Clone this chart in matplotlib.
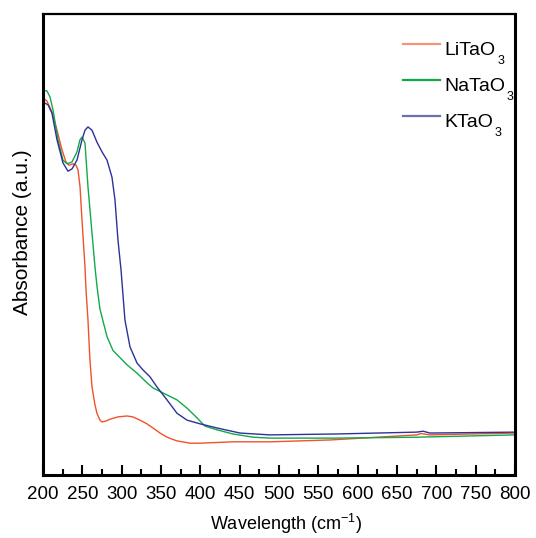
import matplotlib
matplotlib.use("Agg")
import matplotlib.pyplot as plt
from matplotlib.ticker import MultipleLocator, NullLocator

plt.rcParams['font.family'] = ['Liberation Sans', 'DejaVu Sans']
plt.rcParams['mathtext.fontset'] = 'custom'
plt.rcParams['mathtext.rm'] = 'Liberation Sans'

# UV-vis absorbance spectra (arbitrary units)
li_wl = [200, 205.1, 211.4, 217.8, 224.2, 229.2, 233.1, 238.1, 242.0, 244.5,
         247.1, 249.6, 253.4, 254.7, 257.2, 259.7, 262.3, 266.1, 268.6, 272.4,
         275.0, 280.1, 285.2, 295.3, 306.8, 314.4, 323.3, 332.2, 339.8, 348.7,
         357.6, 370.3, 386.9, 399.7, 441.5, 488.6, 564.8, 675.4, 680.0, 691.9,
         742.8, 800]
li_abs = [0.818, 0.811, 0.787, 0.748, 0.705, 0.679, 0.672, 0.675, 0.672, 0.662,
          0.625, 0.553, 0.451, 0.401, 0.336, 0.249, 0.191, 0.152, 0.134, 0.119,
          0.115, 0.117, 0.121, 0.126, 0.128, 0.126, 0.119, 0.111, 0.102, 0.091,
          0.082, 0.074, 0.069, 0.069, 0.072, 0.072, 0.076, 0.087, 0.090, 0.087,
          0.089, 0.091]

na_wl = [200, 205.1, 208.9, 212.7, 219.1, 225.4, 230.5, 236.9, 243.2, 247.0,
         249.6, 253.4, 257.2, 262.3, 266.1, 268.6, 272.4, 281.4, 289.0, 306.8,
         319.5, 332.2, 339.8, 352.5, 370.3, 383.1, 395.8, 405.9, 421.2, 441.5,
         467.0, 488.6, 573.7, 675.4, 800]
na_abs = [0.835, 0.833, 0.820, 0.792, 0.727, 0.683, 0.675, 0.679, 0.701, 0.727,
          0.733, 0.720, 0.625, 0.525, 0.451, 0.410, 0.360, 0.300, 0.270, 0.239,
          0.221, 0.200, 0.189, 0.178, 0.163, 0.145, 0.124, 0.106, 0.098, 0.089,
          0.082, 0.080, 0.080, 0.082, 0.087]

k_wl = [200, 206.4, 211.4, 217.8, 225.4, 231.8, 236.9, 243.2, 249.6, 253.4,
        257.2, 262.3, 268.6, 275.0, 281.4, 287.7, 291.5, 295.3, 299.2, 304.2,
        310.6, 319.5, 327.1, 336.0, 344.9, 357.6, 370.3, 383.1, 399.6, 421.2,
        450.4, 488.6, 573.7, 675.0, 683.1, 691.9, 800]
k_abs = [0.809, 0.803, 0.785, 0.727, 0.677, 0.659, 0.664, 0.683, 0.727, 0.748,
         0.755, 0.748, 0.722, 0.701, 0.683, 0.646, 0.597, 0.510, 0.445, 0.336,
         0.278, 0.243, 0.228, 0.213, 0.191, 0.163, 0.134, 0.119, 0.111, 0.102,
         0.091, 0.087, 0.089, 0.093, 0.095, 0.091, 0.093]

names = ['LiTaO', 'NaTaO', 'KTaO']
line_colors = ['#f2512b', '#14a84a', '#2d3296']
key_colors = ['#f2967a', '#14a84a', '#6b70b4']
spectra = [(li_wl, li_abs), (na_wl, na_abs), (k_wl, k_abs)]

fig = plt.figure(figsize=(5.36, 5.38), dpi=100)
ax = fig.add_axes([0.0802, 0.1171, 0.8806, 0.8569])

for (wl, ab), color in zip(spectra, line_colors):
    ax.plot(wl, ab, color=color, lw=1.0)

ax.set_xlim(200, 800)
ax.set_ylim(0, 1.0)
ax.xaxis.set_major_locator(MultipleLocator(50))
ax.xaxis.set_minor_locator(MultipleLocator(25))
ax.yaxis.set_major_locator(NullLocator())
ax.tick_params(axis='x', which='major', direction='in', length=7, width=1.5,
               labelsize=13.5, pad=8)
ax.tick_params(axis='x', which='minor', direction='in', length=4, width=1.5)
for side in ['left', 'bottom', 'right']:
    ax.spines[side].set_linewidth(2.2)
ax.spines['top'].set_linewidth(1.6)

ax.set_xlabel(r'Wavelength (cm$^{\mathregular{-1}}$)', fontsize=13)
ax.xaxis.set_label_coords(0.515, -0.08)
ax.set_ylabel('Absorbance (a.u.)', fontsize=15)
ax.yaxis.set_label_coords(-0.023, 0.526)

# key: short line segment with the compound name beside it
key_x0, key_x1, text_x = 0.763, 0.841, 0.851
key_y = [0.934, 0.856, 0.778]
for name, color, y in zip(names, key_colors, key_y):
    ax.plot([key_x0, key_x1], [y, y], color=color, lw=1.6,
            transform=ax.transAxes, clip_on=False)
    t = ax.text(text_x, y + 0.006, name, transform=ax.transAxes,
                fontsize=14, va='top', ha='left')
    ax.annotate('3', xy=(1, 0), xycoords=t, xytext=(1.0, -6),
                textcoords='offset points', fontsize=9,
                va='bottom', ha='left')

fig.savefig('out.png', dpi=100)
